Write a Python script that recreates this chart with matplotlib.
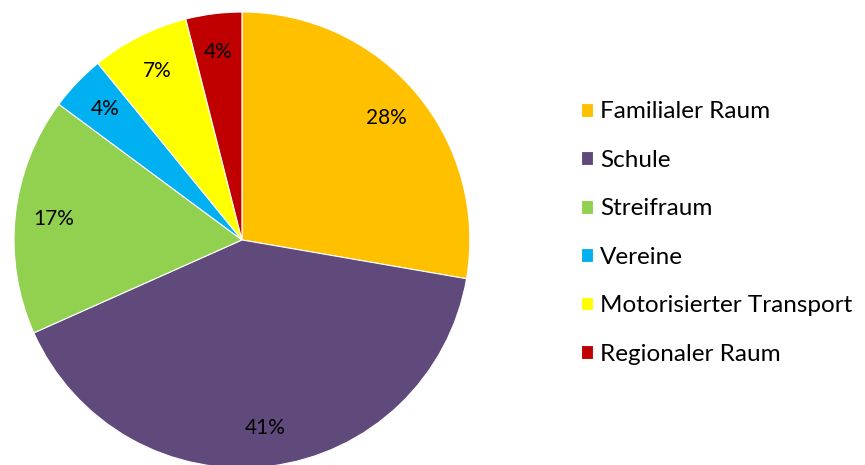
import math
import matplotlib.pyplot as plt

plt.rcParams['font.family'] = ['Lato', 'DejaVu Sans']

categories = ['Familialer Raum', 'Schule', 'Streifraum', 'Vereine',
              'Motorisierter Transport', 'Regionaler Raum']
shares = [28, 41, 17, 4, 7, 4]
colors = ['#FFC000', '#604A7B', '#92D050', '#00B0F0', '#FFFF00', '#C00000']

fig = plt.figure(figsize=(8.65, 4.65), dpi=100)
ax = fig.add_axes([0.0162, -0.0065, 0.527, 0.981])

wedges, texts = ax.pie(
    shares, colors=colors, startangle=90, counterclock=False,
    wedgeprops=dict(edgecolor='white', linewidth=0.8))
for w, s in zip(wedges, shares):
    ang = (w.theta1 + w.theta2) / 2
    r = 0.83
    ax.text(r * math.cos(math.radians(ang)), r * math.sin(math.radians(ang)),
            f'{s}%', ha='center', va='center', fontsize=15, color='black')
ax.set_aspect('equal')
ax.set_xlim(-1, 1)
ax.set_ylim(-1, 1)

fig.legend(wedges, categories, loc='upper left', bbox_to_anchor=(0.66, 0.803),
           frameon=False, fontsize=17.5, handlelength=0.5, handleheight=0.5,
           handletextpad=0.3, labelspacing=1.13, borderaxespad=0)

fig.savefig('out.png', dpi=100)
